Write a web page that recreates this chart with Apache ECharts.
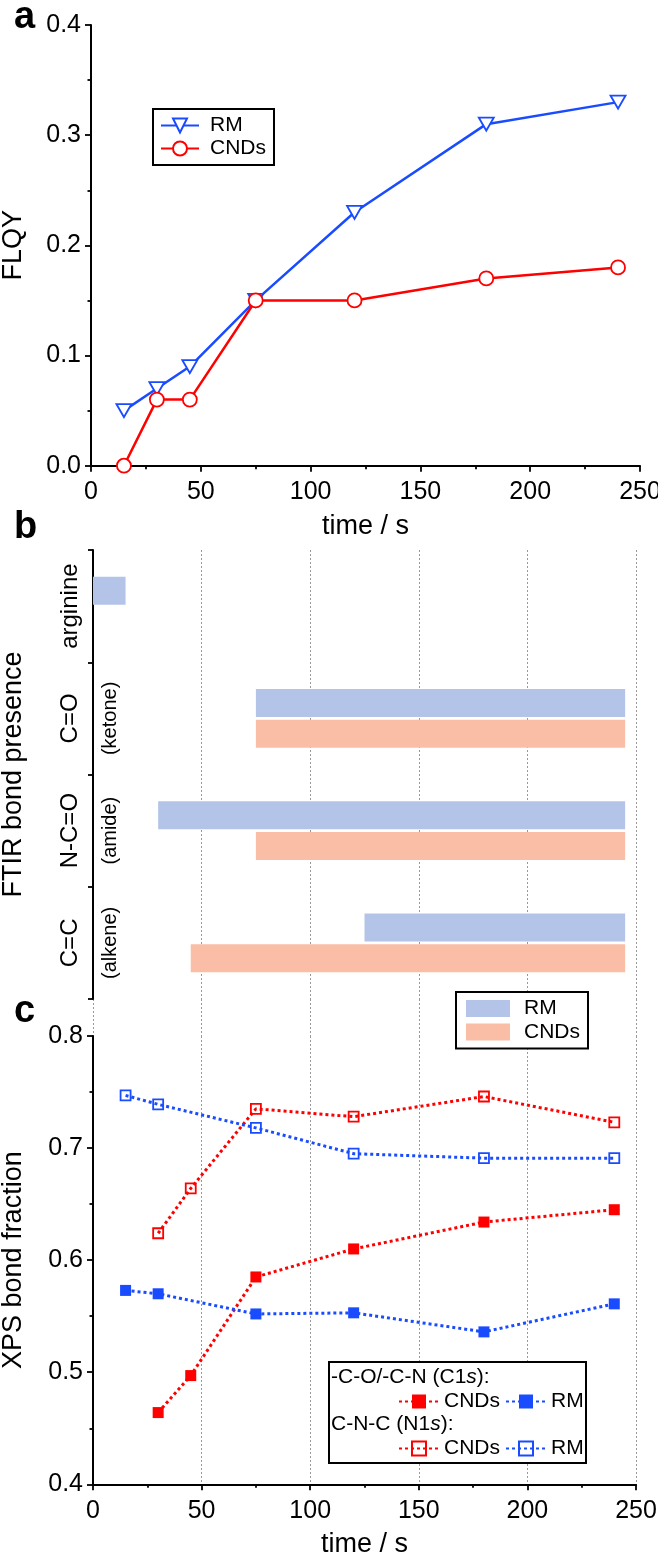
<!DOCTYPE html>
<html><head><meta charset="utf-8">
<script src="https://cdn.jsdelivr.net/npm/echarts@6/dist/echarts.min.js"></script>
<style>html,body{margin:0;padding:0;background:#fff}#c{width:658px;height:1555px}</style>
</head><body><div id="c"></div>
<script>
// ---------- Panel a: FLQY ----------
const timeA = [15, 30, 45, 75, 120, 180, 240];
const flqyRM = [0.05, 0.07, 0.09, 0.15, 0.23, 0.31, 0.33];
const flqyCNDs = [0.00, 0.06, 0.06, 0.15, 0.15, 0.17, 0.18];
// ---------- Panel b: FTIR bond presence (time ranges) ----------
const bondCats = ['arginine', 'C=O', 'N-C=O', 'C=C'];
const bondSub = ['', '(ketone)', '(amide)', '(alkene)'];
const rmStart = [0, 75, 30, 125];
const rmEnd = [15, 245, 245, 245];
const cndStart = [null, 75, 75, 45];
const cndEnd = [null, 245, 245, 245];
// ---------- Panel c: XPS bond fraction ----------
const timeC1sCNDs = [30, 45, 75, 120, 180, 240];
const c1sCNDs = [0.464, 0.497, 0.585, 0.610, 0.634, 0.645];
const timeC1sRM = [15, 30, 75, 120, 180, 240];
const c1sRM = [0.573, 0.570, 0.552, 0.553, 0.536, 0.561];
const timeN1sCNDs = [30, 45, 75, 120, 180, 240];
const n1sCNDs = [0.624, 0.664, 0.735, 0.728, 0.746, 0.723];
const timeN1sRM = [15, 30, 75, 120, 180, 240];
const n1sRM = [0.747, 0.739, 0.718, 0.695, 0.691, 0.691];

const FONT = 'Liberation Sans, Arial, sans-serif';
const BLUE = '#1a4cff', RED = '#ff0000';
const BAR_BLUE = '#b4c4e8', BAR_SALMON = '#f9bea5';
const zip = (xs, ys) => xs.map((x, i) => [x, ys[i]]);
const diff = (a, b) => a.map((v, i) => (v == null ? null : b[i] - v));
const stripName = n => n.replace(/^\S+ /, '');

const axisLine = { show: true, lineStyle: { color: '#000', width: 2 } };
const axisTick = { show: true, inside: false, length: 6, lineStyle: { color: '#000', width: 1.8 } };
const minorTick = { show: true, splitNumber: 2, length: 3.5, lineStyle: { color: '#000', width: 1.8 } };
const label = { color: '#000', fontSize: 25, fontFamily: FONT };
const nameStyle = { color: '#000', fontSize: 27, fontFamily: FONT };
const grid = { lineStyle: { color: '#999', type: [2, 2], width: 1 } };

const timeAxis = (gi, split) => ({
  type: 'value', gridIndex: gi, min: 0, max: 250, interval: 50,
  axisLine, axisTick, minorTick,
  axisLabel: Object.assign({ margin: 14 }, label),
  splitLine: split ? Object.assign({ show: true }, grid) : { show: false },
  name: 'time / s', nameLocation: 'middle', nameGap: 47, nameTextStyle: nameStyle
});
const hiddenTime = gi => ({
  type: 'value', gridIndex: gi, min: 0, max: 250, interval: 50,
  axisLine: { show: false }, axisTick: { show: false }, axisLabel: { show: false },
  splitLine: Object.assign({ show: true }, grid)
});

const pathTri = 'path://M0,0L20,0L10,17.3Z';
const panelLabel = { fontSize: 38, fontWeight: 'bold', color: '#000', fontFamily: FONT };
const G = { containLabel: false, outerBoundsMode: 'none' };

const option = {
  animation: false,
  backgroundColor: '#fff',
  textStyle: { fontFamily: FONT },
  title: [
    { text: 'a', left: 9, top: -6, textStyle: panelLabel },
    { text: 'b', left: 9, top: 504, textStyle: panelLabel },
    { text: 'c', left: 9, top: 988, textStyle: panelLabel }
  ],
  grid: [
    Object.assign({ left: 91, right: 18, top: 25, height: 440.7 }, G),
    Object.assign({ left: 93, right: 22, top: 550, height: 449 }, G),
    Object.assign({ left: 93, right: 22, top: 999, height: 37 }, G),
    Object.assign({ left: 93, right: 22, top: 1036, height: 448.3 }, G)
  ],
  xAxis: [
    timeAxis(0, false),
    hiddenTime(1),
    hiddenTime(2),
    timeAxis(3, true)
  ],
  yAxis: [
    { type: 'value', gridIndex: 0, min: 0, max: 0.4, interval: 0.1,
      axisLine, axisTick, minorTick, splitLine: { show: false },
      axisLabel: Object.assign({ margin: 10, formatter: v => v.toFixed(1) }, label),
      name: 'FLQY', nameLocation: 'middle', nameGap: 64, nameRotate: 90, nameTextStyle: nameStyle },
    { type: 'category', gridIndex: 1, data: bondCats, inverse: true,
      axisLine, axisTick: { show: true, length: 5, lineStyle: { color: '#000', width: 1.8 } },
      axisLabel: Object.assign({ rotate: 90, margin: 11 }, label, { fontSize: 24 }),
      splitLine: { show: false },
      name: 'FTIR bond presence', nameLocation: 'middle', nameGap: 66, nameRotate: 90, nameTextStyle: nameStyle },
    { type: 'category', gridIndex: 1, data: bondSub, inverse: true, position: 'left',
      axisLine: { show: false }, axisTick: { show: false }, splitLine: { show: false },
      axisLabel: { inside: true, rotate: 90, margin: 7, color: '#000', fontSize: 20, fontFamily: FONT } },
    { type: 'value', gridIndex: 2, show: false },
    { type: 'value', gridIndex: 3, min: 0.4, max: 0.8, interval: 0.1,
      axisLine, axisTick, minorTick, splitLine: { show: false },
      axisLabel: Object.assign({ margin: 10, formatter: v => v.toFixed(1) }, label),
      name: 'XPS bond fraction', nameLocation: 'middle', nameGap: 66, nameRotate: 90, nameTextStyle: nameStyle }
  ],
  legend: [
    { data: ['a RM', 'a CNDs'], orient: 'vertical', left: 153, top: 109,
      formatter: stripName, padding: [6, 8, 6, 7], itemGap: 2, itemWidth: 38, itemHeight: 17.5,
      borderColor: '#000', borderWidth: 2, backgroundColor: '#fff',
      textStyle: { fontSize: 21, color: '#000', fontFamily: FONT, padding: [0, 0, 0, 6] } },
    { data: ['b RM', 'b CNDs'], orient: 'vertical', left: 456, top: 992,
      formatter: stripName, padding: [6, 8, 6, 10], itemGap: 2.5, itemWidth: 44, itemHeight: 17,
      borderColor: '#000', borderWidth: 2, backgroundColor: '#fff', icon: 'rect',
      textStyle: { fontSize: 21, color: '#000', fontFamily: FONT, padding: [0, 0, 0, 9] } },
    { data: ['c1 CNDs', 'c1 RM'], orient: 'horizontal', left: 398, top: 1391, z: 6,
      formatter: stripName, padding: 0, itemGap: 5, itemWidth: 40, itemHeight: 17.5,
      textStyle: { fontSize: 21, color: '#000', fontFamily: FONT } },
    { data: ['n1 CNDs', 'n1 RM'], orient: 'horizontal', left: 398, top: 1438, z: 6,
      formatter: stripName, padding: 0, itemGap: 5, itemWidth: 40, itemHeight: 17.5,
      textStyle: { fontSize: 21, color: '#000', fontFamily: FONT } }
  ],
  graphic: [
    { type: 'rect', z: 5, shape: { x: 329, y: 1362, width: 257, height: 101 },
      style: { fill: '#fff', stroke: '#000', lineWidth: 2 } },
    { type: 'text', z: 6, left: 331, top: 1367,
      style: { text: '-C-O/-C-N (C1{i|s}):', fill: '#000', font: '21px ' + FONT,
        rich: { i: { fontStyle: 'italic', fontSize: 21, fontFamily: FONT, fill: '#000' } } } },
    { type: 'text', z: 6, left: 331, top: 1414,
      style: { text: 'C-N-C (N1{i|s}):', fill: '#000', font: '21px ' + FONT,
        rich: { i: { fontStyle: 'italic', fontSize: 21, fontFamily: FONT, fill: '#000' } } } }
  ],
  series: [
    // panel a
    { name: 'a RM', type: 'line', xAxisIndex: 0, yAxisIndex: 0, data: zip(timeA, flqyRM),
      symbol: pathTri, symbolSize: [15, 13], lineStyle: { color: BLUE, width: 2.5 },
      itemStyle: { color: '#fff', borderColor: BLUE, borderWidth: 1.8 } },
    { name: 'a CNDs', type: 'line', xAxisIndex: 0, yAxisIndex: 0, data: zip(timeA, flqyCNDs),
      symbol: 'circle', symbolSize: 14, lineStyle: { color: RED, width: 2.5 },
      itemStyle: { color: '#fff', borderColor: RED, borderWidth: 1.8 } },
    // panel b
    { name: 'b RM base', type: 'bar', stack: 'rm', xAxisIndex: 1, yAxisIndex: 1, data: rmStart,
      barWidth: 28, barGap: '10%', itemStyle: { color: 'rgba(0,0,0,0)' }, silent: true },
    { name: 'b RM', type: 'bar', stack: 'rm', xAxisIndex: 1, yAxisIndex: 1, data: diff(rmStart, rmEnd),
      barWidth: 28, barGap: '10%', itemStyle: { color: BAR_BLUE } },
    { name: 'b CNDs base', type: 'bar', stack: 'cnd', xAxisIndex: 1, yAxisIndex: 1, data: cndStart,
      barWidth: 28, barGap: '10%', itemStyle: { color: 'rgba(0,0,0,0)' }, silent: true },
    { name: 'b CNDs', type: 'bar', stack: 'cnd', xAxisIndex: 1, yAxisIndex: 1, data: diff(cndStart, cndEnd),
      barWidth: 28, barGap: '10%', itemStyle: { color: BAR_SALMON } },
    // panel c
    { name: 'c1 CNDs', type: 'line', xAxisIndex: 3, yAxisIndex: 4, data: zip(timeC1sCNDs, c1sCNDs),
      symbol: 'rect', symbolSize: 11, lineStyle: { color: RED, width: 3, type: [3, 3] },
      itemStyle: { color: RED } },
    { name: 'c1 RM', type: 'line', xAxisIndex: 3, yAxisIndex: 4, data: zip(timeC1sRM, c1sRM),
      symbol: 'rect', symbolSize: 11, lineStyle: { color: BLUE, width: 3, type: [3, 3] },
      itemStyle: { color: BLUE } },
    { name: 'n1 CNDs', type: 'line', xAxisIndex: 3, yAxisIndex: 4, data: zip(timeN1sCNDs, n1sCNDs),
      symbol: 'rect', symbolSize: 10, lineStyle: { color: RED, width: 3, type: [3, 3] },
      itemStyle: { color: 'rgba(255,255,255,0)', borderColor: RED, borderWidth: 1.8 } },
    { name: 'n1 RM', type: 'line', xAxisIndex: 3, yAxisIndex: 4, data: zip(timeN1sRM, n1sRM),
      symbol: 'rect', symbolSize: 10, lineStyle: { color: BLUE, width: 3, type: [3, 3] },
      itemStyle: { color: 'rgba(255,255,255,0)', borderColor: BLUE, borderWidth: 1.8 } }
  ]
};
const chart = echarts.init(document.getElementById('c'), null, { renderer: 'canvas' });
chart.setOption(option);
</script></body></html>
